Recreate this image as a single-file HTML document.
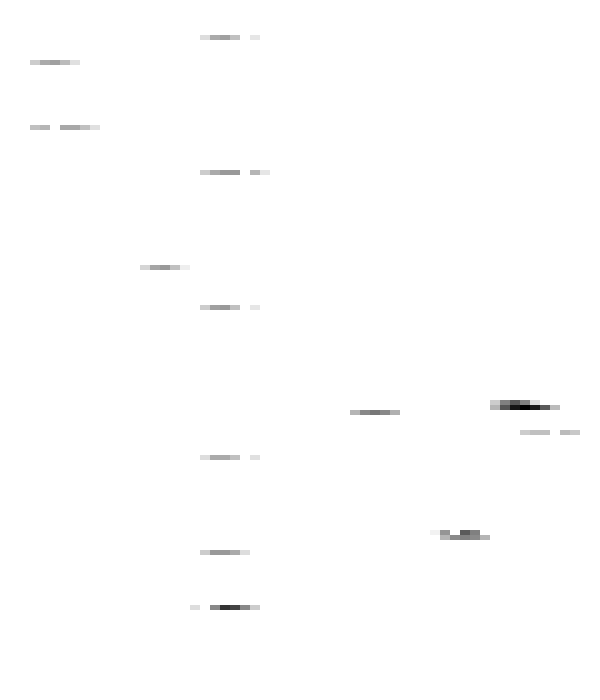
<!DOCTYPE html>
<html><head><meta charset="utf-8"><style>
html,body{margin:0;padding:0;background:#fff;}
#c{position:relative;width:600px;height:700px;overflow:hidden;background:#fff;}
.b{position:absolute;width:10px;height:5px;}
</style></head><body>
<div id="c"></div>
<script>
const rows = [
 [35,200,['#ddd','#aaa','#a0a0a0','#c0c0c0',null,'#e6e6e6']],
 [60,30,['#ccc','#aaa','#a0a0a0','#bbb','#e0e0e0']],
 [125,30,['#c0c0c0','#b5b5b5',null,'#a8a8a8','#a8a8a8','#c0c0c0','#e0e0e0']],
 [170,200,['#ccc','#aaa','#999','#999',null,'#b5b5b5','#e6e6e6']],
 [265,140,['#d5d5d5','#a5a5a5','#999','#c0c0c0','#eee']],
 [305,200,['#ccc','#a0a0a0','#999','#c0c0c0',null,'#e6e6e6']],
 [400,490,['#ccc','#808080','#555','#808080','#ddd']],
 [405,490,['#b5b5b5','#555','#151515','#000','#1a1a1a','#5a5a5a','#bbb']],
 [410,350,['#b5b5b5','#888','#777','#888','#b0b0b0']],
 [430,520,['#ccc','#c0c0c0','#c0c0c0',null,'#bbb','#c8c8c8']],
 [455,200,['#ddd','#aaa','#aaa','#c0c0c0',null,'#e0e0e0']],
 [530,430,['#f2f2f2','#959595',null,'#5a5a5a','#808080']],
 [535,440,['#b5b5b5','#8a8a8a','#808080','#8a8a8a','#b5b5b5']],
 [550,200,['#ccc','#999','#999','#aaa','#ddd']],
 [605,190,['#ddd',null,'#888','#333','#444','#888','#ccc']]
];
const c = document.getElementById('c');
rows.forEach(r => {
  r[2].forEach((col, i) => {
    if (!col) return;
    const d = document.createElement('div');
    d.className = 'b';
    
    
    d.style.top = r[0] + 'px';
    d.style.left = (r[1] + i * 10) + 'px';
    d.style.background = col;
    c.appendChild(d);
  });
});
</script>
</body></html>
